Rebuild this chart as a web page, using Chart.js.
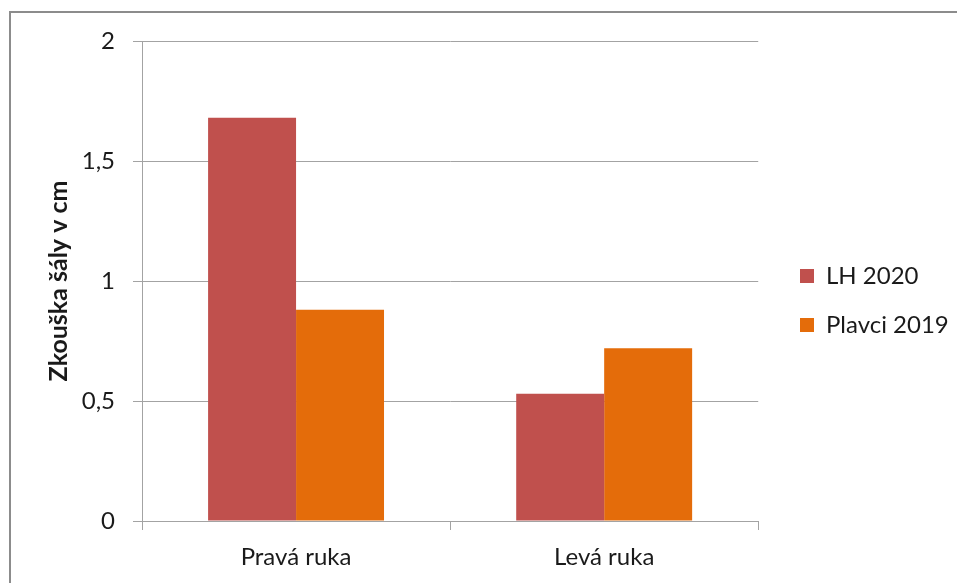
<!DOCTYPE html>
<html>
<head>
<meta charset="utf-8">
<script src="https://cdn.jsdelivr.net/npm/chart.js@4.4.1/dist/chart.umd.min.js"></script>
<style>
  html, body { margin: 0; padding: 0; background: #fff; overflow: hidden; }
  #wrap { position: relative; width: 957px; height: 583px; }
  #frame {
    position: absolute; left: 9px; top: 11px;
    width: 1000px; height: 700px;
    border: 2px solid #8c8c8c; box-sizing: border-box;
  }
  #myChart { position: absolute; left: 0; top: 0; }
</style>
</head>
<body>
<div id="wrap">
  <div id="frame"></div>
  <canvas id="myChart" width="957" height="583"></canvas>
</div>
<script>
// Shoulder flexibility test, right vs. left arm
const categories = ['Pravá ruka', 'Levá ruka'];
const seriesNames = ['LH 2020', 'Plavci 2019'];
const lh2020 = [1.68, 0.53];
const plavci2019 = [0.88, 0.72];
const yTicks = [0, 0.5, 1, 1.5, 2];

(() => {
  const canvas = document.getElementById('myChart');
  if (!canvas) return;

  const font = { family: 'Lato, Carlito, "Open Sans", sans-serif', size: 24 };
  const textColor = '#1a1a1a';
  const gridColor = '#a3a3a3';

  // Pin the legend block to a fixed spot right of the plot
  const legendPin = {
    id: 'legendPin',
    afterLayout(chart) {
      const lg = chart.legend;
      if (!lg) return;
      const w = lg.right - lg.left;
      const h = lg.bottom - lg.top;
      lg.left = 775;
      lg.right = lg.left + w;
      lg.top = 239;
      lg.bottom = lg.top + h;
    }
  };

  new Chart(canvas, {
    type: 'bar',
    data: {
      labels: categories,
      datasets: [
        { label: seriesNames[0], data: lh2020, backgroundColor: '#C0504D' },
        { label: seriesNames[1], data: plavci2019, backgroundColor: '#E46C0A' }
      ]
    },
    options: {
      responsive: false,
      animation: false,
      events: [],
      categoryPercentage: 0.571,
      barPercentage: 1,
      layout: { padding: { top: 41, right: 15, bottom: 0, left: 0 } },
      plugins: {
        legend: {
          position: 'right',
          align: 'start',
          labels: {
            font,
            color: textColor,
            boxWidth: 14,
            boxHeight: 14,
            padding: 25
          }
        },
        title: { display: false },
        tooltip: { enabled: false }
      },
      scales: {
        x: {
          grid: {
            display: true,
            drawOnChartArea: false,
            color: gridColor,
            tickLength: 9,
            offset: true
          },
          border: { display: false },
          ticks: { font, color: textColor, padding: 13 },
          afterFit(scale) { scale.height = 62; }
        },
        y: {
          min: 0,
          max: 2,
          afterBuildTicks(scale) {
            scale.ticks = yTicks.map(v => ({ value: v }));
          },
          grid: { color: gridColor, tickLength: 9, lineWidth: 1 },
          border: { color: gridColor },
          ticks: {
            font,
            color: textColor,
            padding: 18,
            callback: v => String(v).replace('.', ',')
          },
          title: {
            display: true,
            text: 'Zkouška šály v cm',
            font: { ...font, size: 25, weight: 'bold' },
            color: textColor,
            padding: { top: 44, bottom: 0 }
          },
          afterFit(scale) { scale.width = 142; }
        }
      }
    },
    plugins: [legendPin]
  });
})();
</script>
</body>
</html>
